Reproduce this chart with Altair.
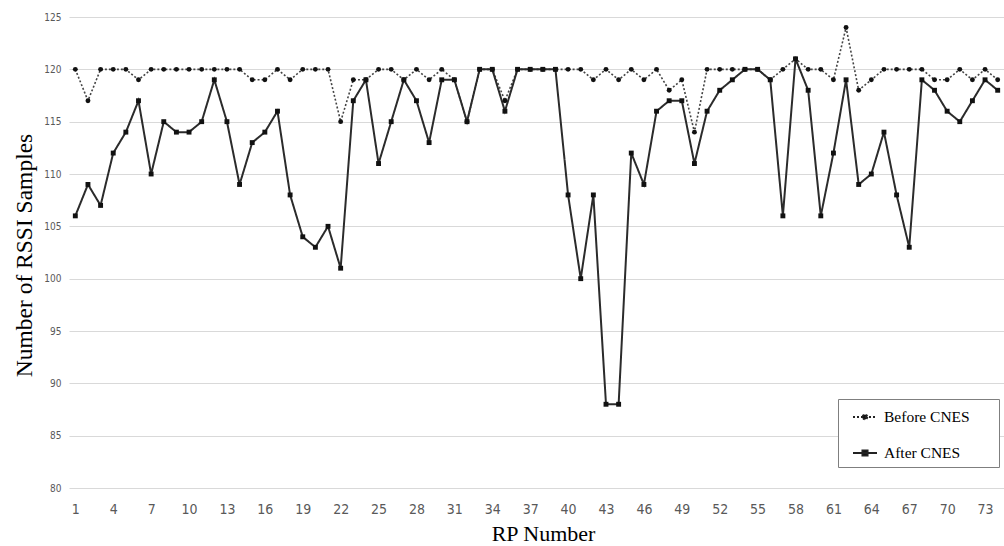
import altair as alt
import pandas as pd

rp = list(range(1, 75))
before_cnes = [120, 117, 120, 120, 120, 119, 120, 120, 120, 120,
               120, 120, 120, 120, 119, 119, 120, 119, 120, 120,
               120, 115, 119, 119, 120, 120, 119, 120, 119, 120,
               119, 115, 120, 120, 117, 120, 120, 120, 120, 120,
               120, 119, 120, 119, 120, 119, 120, 118, 119, 114,
               120, 120, 120, 120, 120, 119, 120, 121, 120, 120,
               119, 124, 118, 119, 120, 120, 120, 120, 119, 119,
               120, 119, 120, 119]
after_cnes = [106, 109, 107, 112, 114, 117, 110, 115, 114, 114,
              115, 119, 115, 109, 113, 114, 116, 108, 104, 103,
              105, 101, 117, 119, 111, 115, 119, 117, 113, 119,
              119, 115, 120, 120, 116, 120, 120, 120, 120, 108,
              100, 108, 88, 88, 112, 109, 116, 117, 117, 111,
              116, 118, 119, 120, 120, 119, 106, 121, 118, 106,
              112, 119, 109, 110, 114, 108, 103, 119, 118, 116,
              115, 117, 119, 118]
series_names = ["Before CNES", "After CNES"]
x_ticks = list(range(1, 74, 3))
y_ticks = list(range(80, 126, 5))

df = pd.DataFrame({
    "rp": rp * 2,
    "value": before_cnes + after_cnes,
    "series": [series_names[0]] * len(rp) + [series_names[1]] * len(rp),
})

narrow = "'Liberation Sans Narrow', 'DejaVu Sans Condensed', 'Arial Narrow', sans-serif"
serif = "'Liberation Serif', 'Times New Roman', serif"

x_enc = alt.X("rp:Q",
              scale=alt.Scale(domain=[0.5, 74.5], nice=False, zero=False),
              axis=alt.Axis(values=x_ticks, grid=False, domain=False, ticks=False,
                            labelFont=narrow, labelFontSize=14, labelColor="#595959",
                            labelPadding=14, title="RP Number", titleFont=serif,
                            titleFontSize=22, titleFontWeight="normal", titleColor="#000000",
                            titleX=474, titleY=52, titleBaseline="alphabetic", titleAlign="center"))
y_enc = alt.Y("value:Q",
              scale=alt.Scale(domain=[80, 125], nice=False, zero=False),
              axis=alt.Axis(values=y_ticks, grid=True, gridColor="#d9d9d9", gridWidth=1,
                            domain=False, ticks=False,
                            labelFont=narrow, labelFontSize=10, labelColor="#595959",
                            labelPadding=8, title="Number of RSSI Samples", titleFont=serif,
                            titleFontSize=23.5, titleFontWeight="normal", titleColor="#000000",
                            titleX=-45, titleY=238, titleBaseline="middle", titleAlign="center",
                            titleAngle=270))

square_path = "M-1,0H1M-0.22,-0.22H0.22V0.22H-0.22Z"
circle_path = "M-1,0H1M0.2,0A0.2,0.2 0 1,1 -0.2,0A0.2,0.2 0 1,1 0.2,0Z"

legend = alt.Legend(
    title=None, orient="none", legendX=769, legendY=382,
    symbolSize=576, symbolStrokeWidth=1.8, symbolOffset=9,
    labelFont=serif, labelFontSize=15.5, labelColor="#000000", labelOffset=6,
    labelExpr="datum.label + '\u2800\u2800'",
    padding=5, rowPadding=14, strokeColor="#7f7f7f", fillColor="#ffffff",
)
dash_range = [[2, 2], [1, 0]]

lines = alt.Chart(df).mark_line(interpolate="linear").encode(
    x=x_enc, y=y_enc,
    strokeDash=alt.StrokeDash("series:N", scale=alt.Scale(domain=series_names, range=dash_range), legend=None),
    color=alt.Color("series:N", scale=alt.Scale(domain=series_names, range=["#444444", "#2b2b2b"]), legend=None),
    strokeWidth=alt.StrokeWidth("series:N", scale=alt.Scale(domain=series_names, range=[1.6, 2.0]), legend=None),
)

points = alt.Chart(df).mark_point(filled=True, opacity=1, color="#111111", size=24).encode(
    x=x_enc, y=y_enc,
    shape=alt.Shape("series:N", scale=alt.Scale(domain=series_names, range=["circle", "square"]), legend=None),
)

legend_layer = alt.Chart(df).transform_filter("false").mark_point(
    filled=False, fill="#111111", stroke="#222222", strokeWidth=1.8, opacity=1
).encode(
    x=x_enc, y=y_enc,
    shape=alt.Shape("series:N", scale=alt.Scale(domain=series_names, range=[circle_path, square_path]), legend=legend),
    strokeDash=alt.StrokeDash("series:N", scale=alt.Scale(domain=series_names, range=dash_range), legend=legend),
)

chart = alt.layer(lines, points, legend_layer).resolve_scale(
    color="independent", shape="independent", strokeDash="independent"
).properties(
    width=935, height=471,
    autosize=alt.AutoSizeParams(type="none"),
    padding={"left": 69, "top": 17, "right": 0, "bottom": 58},
    background="#ffffff",
).configure_view(stroke=None)

chart.save("out.html", embed_options={"renderer": "svg", "actions": False})
